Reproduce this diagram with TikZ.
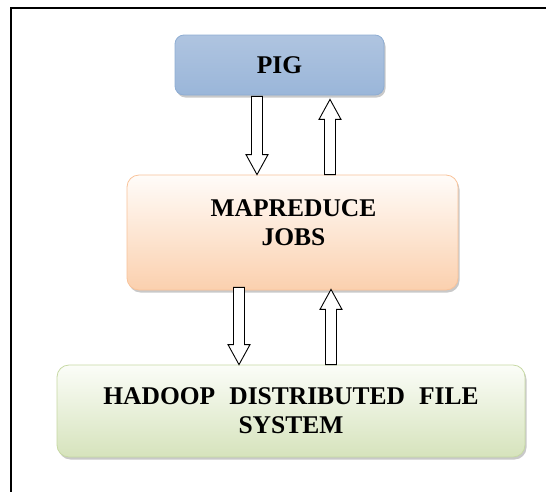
\documentclass[tikz,border=0pt]{standalone}
\usepackage{fontspec}
\setmainfont{Liberation Serif}
\usetikzlibrary{calc,shadows}
\definecolor{pigtop}{HTML}{AFC4E0}
\definecolor{pigmid}{HTML}{DCE6F2}
\definecolor{pigbot}{HTML}{9AB6D9}
\definecolor{pigline}{HTML}{8EADD3}
\definecolor{mrtop}{HTML}{FFFCF9}
\definecolor{mrbot}{HTML}{FBD0AE}
\definecolor{mrline}{HTML}{F9C39A}
\definecolor{hdtop}{HTML}{FBFDF8}
\definecolor{hdbot}{HTML}{D6E3BC}
\definecolor{hdline}{HTML}{C7D9A4}
\tikzset{
  boxbase/.style={rectangle, rounded corners=12pt, inner sep=0pt, align=center,
    line width=0.8pt,
    drop shadow={shadow xshift=1.5pt, shadow yshift=-2.5pt, opacity=0.35, fill=black!60}},
  boxtext/.style={inner sep=0pt, align=center, font=\fontsize{25.5}{29}\selectfont\bfseries},
  pigbox/.style={boxbase, boxtext, rounded corners=9pt, draw=pigline, top color=pigtop, middle color=pigmid, bottom color=pigbot},
  mrbox/.style={boxbase, draw=mrline, top color=mrtop, bottom color=mrbot},
  hdbox/.style={boxbase, boxtext, draw=hdline, top color=hdtop, bottom color=hdbot},
  barrow/.style={draw=black, fill=white, line width=0.9pt, line join=miter},
  frameline/.style={draw=black, line width=2pt}
}
\newcommand\blockarr[3]{\path[barrow] let \p1=(#1), \p2=(#2) in
  (\x1-5.5pt,\y1) -- (\x1-5.5pt,\y2#320pt) -- (\x1-11pt,\y2#320pt) -- (\x1,\y2)
  -- (\x1+11pt,\y2#320pt) -- (\x1+5.5pt,\y2#320pt) -- (\x1+5.5pt,\y1) -- cycle;}
\begin{document}
\begin{tikzpicture}[x=1pt,y=-1pt]
\useasboundingbox (0,0) rectangle (546,491);
\clip (0,0) rectangle (546,491);
\fill[white] (0,0) rectangle (546,491);
\path[frameline] (11,8) rectangle (570,520);

\node[pigbox, minimum width=209pt, minimum height=60pt] (pig) at (279.5,65) {PIG};
\node[mrbox, minimum width=331pt, minimum height=115pt] (mr) at (292.5,232.5) {};
\node[boxtext] (mrtext) at ([xshift=1pt,yshift=10pt]mr.center) {MAPREDUCE\\JOBS};
\node[hdbox, minimum width=468pt, minimum height=92pt] (hd) at (291,411) {HADOOP\hspace{0.55em}DISTRIBUTED\hspace{0.55em}FILE\\SYSTEM};

\coordinate (a1s) at ([xshift=-22.5pt,yshift=-1pt]pig.south);
\coordinate (a1e) at ([xshift=-22.5pt]pig.south |- mr.north);
\blockarr{a1s}{a1e}{+}
\coordinate (a2s) at ([xshift=50.5pt]pig.south |- mr.north);
\coordinate (a2e) at ([xshift=50.5pt,yshift=-4pt]pig.south);
\blockarr{a2s}{a2e}{-}
\coordinate (a3s) at ([xshift=-53.5pt,yshift=3pt]mr.south);
\coordinate (a3e) at ([xshift=-53.5pt]mr.south |- hd.north);
\blockarr{a3s}{a3e}{+}
\coordinate (a4s) at ([xshift=38.5pt]mr.south |- hd.north);
\coordinate (a4e) at ([xshift=38.5pt,yshift=1pt]mr.south);
\blockarr{a4s}{a4e}{-}
\end{tikzpicture}
\end{document}
